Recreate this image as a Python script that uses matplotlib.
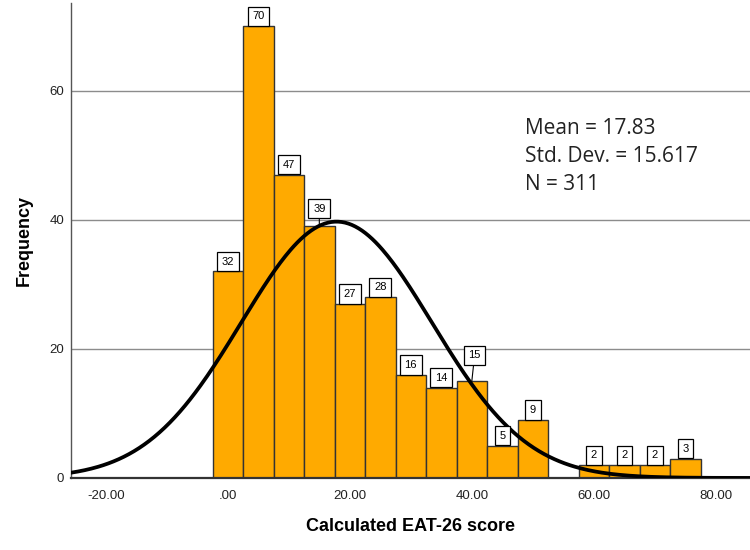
import matplotlib.pyplot as plt
import numpy as np

plt.rcParams['font.family'] = ['Liberation Sans', 'DejaVu Sans']

# histogram data (bin width 5, centres from 0 to 75)
bin_start = 0
bin_width = 5
counts = [32, 70, 47, 39, 27, 28, 16, 14, 15, 5, 9, 0, 2, 2, 2, 3]
mean = 17.83
std_dev = 15.617
n_obs = 311

x_ticks = [-20, 0, 20, 40, 60, 80]
x_tick_labels = ["-20.00", ".00", "20.00", "40.00", "60.00", "80.00"]
y_ticks = [0, 20, 40, 60]

# labels that are lifted off the bar with a leader line: index -> (dx, dy) in points
lifted = {3: (0, 9), 8: (2, 15)}

centres = bin_start + bin_width * np.arange(len(counts))

fig = plt.figure(figsize=(7.5, 5.5), dpi=100)
ax = fig.add_axes([0.0947, 0.131, 0.9053, 0.8635])

ax.set_xlim(-25.7, 85.6)
ax.set_ylim(0, 73.6)

for y in y_ticks[1:]:
    ax.axhline(y, color='#8c8c8c', lw=1, zorder=0)

ax.bar(centres, counts, width=bin_width, color='#FFAA00', edgecolor='#333333',
       linewidth=1, zorder=2)

for i, (c, v) in enumerate(zip(centres, counts)):
    if v == 0:
        continue
    dx, dy = lifted.get(i, (0, 3.5))
    props = dict(arrowstyle='-', lw=0.8, color='black', shrinkA=0, shrinkB=0) if i in lifted else None
    ax.annotate(str(v), xy=(c, v), xytext=(dx, dy), textcoords='offset points',
                ha='center', va='bottom', fontsize=8,
                bbox=dict(boxstyle='square,pad=0.42', fc='white', ec='black', lw=0.9),
                arrowprops=props, zorder=5)

# normal curve scaled to counts
xs = np.linspace(-25.7, 85.6, 400)
ys = n_obs * bin_width / (std_dev * np.sqrt(2 * np.pi)) * np.exp(-0.5 * ((xs - mean) / std_dev) ** 2)
ax.plot(xs, ys, color='black', lw=2.7, zorder=4, solid_capstyle='round')

ax.set_xticks(x_ticks, x_tick_labels)
ax.set_yticks(y_ticks)
ax.tick_params(axis='both', length=0, labelsize=9.5, colors='#222222')
ax.tick_params(axis='x', pad=9)
ax.tick_params(axis='y', pad=5)

for s in ['top', 'right']:
    ax.spines[s].set_visible(False)
ax.spines['left'].set_color('#555555')
ax.spines['left'].set_linewidth(1)
ax.spines['bottom'].set_color('#333333')
ax.spines['bottom'].set_linewidth(1.6)

ax.set_ylabel('Frequency', fontsize=13, fontweight='bold', labelpad=12)
ax.set_xlabel('Calculated EAT-26 score', fontsize=13, fontweight='bold', labelpad=11)

ax.text(0.668, 0.757, f"Mean = {mean:.2f}\nStd. Dev. = {std_dev:.3f}\nN = {n_obs}",
        transform=ax.transAxes, fontsize=15, family=['Open Sans', 'DejaVu Sans'],
        va='top', ha='left', linespacing=1.42, color='#222222')

fig.savefig('out.png', dpi=100)
